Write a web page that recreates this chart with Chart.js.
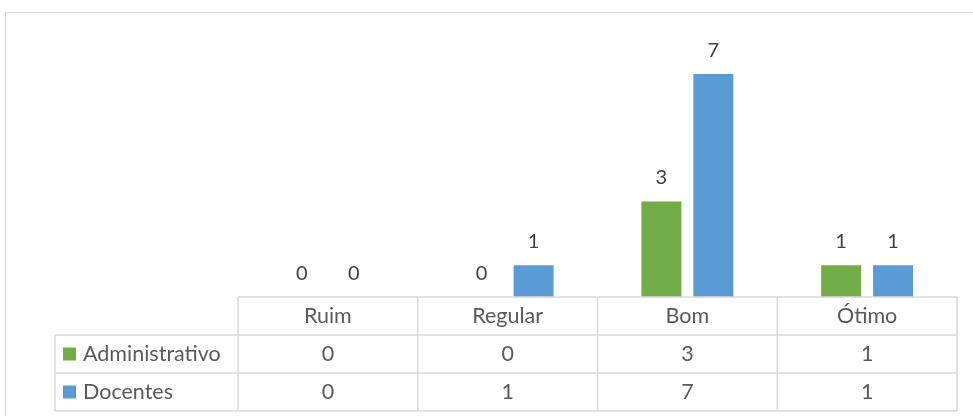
<!DOCTYPE html>
<html>
<head>
<meta charset="utf-8">
<title>Avaliação</title>
<script src="https://cdn.jsdelivr.net/npm/chart.js@4/dist/chart.umd.min.js"></script>
<style>
    html, body { margin: 0; padding: 0; background: #fff; overflow: hidden; }
    #frame {
        position: absolute; left: 5px; top: 12px;
        width: 1100px; height: 600px;
        border: 1px solid #d9d9d9;
    }
    #chartBox { position: absolute; left: 0; top: 0; width: 973px; height: 416px; }
</style>
</head>
<body>
<div id="frame"></div>
<div id="chartBox"><canvas id="evalChart"></canvas></div>
<script>
// Chart data
const categories = ['Ruim', 'Regular', 'Bom', 'Ótimo'];
const seriesNames = ['Administrativo', 'Docentes'];
const administrativo = [0, 0, 3, 1];
const docentes = [0, 1, 7, 1];
const seriesColors = ['#70ad47', '#5b9bd5'];

const FONT = '"Lato", "Open Sans", sans-serif';
const GRID = '#d9d9d9';
const ROW_H = 38;
const TABLE_LEFT = 55;

/**
 * Draw values above each bar
 */
const barLabels = {
    id: 'barLabels',
    afterDatasetsDraw(chart) {
        const ctx = chart.ctx;
        ctx.save();
        ctx.font = '20px ' + FONT;
        ctx.fillStyle = '#404040';
        ctx.textAlign = 'center';
        ctx.textBaseline = 'alphabetic';
        chart.data.datasets.forEach((ds, i) => {
            chart.getDatasetMeta(i).data.forEach((bar, j) => {
                ctx.fillText(String(ds.data[j]), bar.x, bar.y - 17);
            });
        });
        ctx.restore();
    }
};

/**
 * Draw the data table under the plot, Excel style
 */
const dataTable = {
    id: 'dataTable',
    afterDraw(chart) {
        const ctx = chart.ctx;
        const xs = chart.scales.x;
        const area = chart.chartArea;
        const colW = (area.right - area.left) / categories.length;
        const top = area.bottom;
        const bottom = top + ROW_H * (seriesNames.length + 1);

        ctx.save();
        ctx.strokeStyle = GRID;
        ctx.lineWidth = 1.5;

        // horizontal lines
        ctx.beginPath();
        ctx.moveTo(area.left, top);
        ctx.lineTo(area.right, top);
        for (let r = 1; r <= seriesNames.length + 1; r++) {
            ctx.moveTo(TABLE_LEFT, top + r * ROW_H);
            ctx.lineTo(area.right, top + r * ROW_H);
        }
        // vertical lines
        for (let c = 0; c <= categories.length; c++) {
            const x = area.left + c * colW;
            ctx.moveTo(x, top);
            ctx.lineTo(x, bottom);
        }
        ctx.moveTo(TABLE_LEFT, top + ROW_H);
        ctx.lineTo(TABLE_LEFT, bottom);
        ctx.stroke();

        // text
        ctx.font = '21.5px ' + FONT;
        ctx.fillStyle = '#595959';
        ctx.textBaseline = 'middle';
        ctx.textAlign = 'center';
        categories.forEach((cat, i) => {
            ctx.fillText(cat, xs.getPixelForValue(i), top + ROW_H / 2);
        });
        chart.data.datasets.forEach((ds, r) => {
            const cy = top + ROW_H * (r + 1) + ROW_H / 2;
            ctx.textAlign = 'center';
            ctx.fillStyle = '#595959';
            ds.data.forEach((v, i) => {
                ctx.fillText(String(v), xs.getPixelForValue(i), cy);
            });
            // legend key + series name
            ctx.fillStyle = seriesColors[r];
            ctx.fillRect(TABLE_LEFT + 8, cy - 6.5, 13, 13);
            ctx.fillStyle = '#595959';
            ctx.textAlign = 'left';
            ctx.fillText(ds.label, TABLE_LEFT + 28, cy);
        });
        ctx.restore();
    }
};

/**
 * Build the chart
 */
function initEvalChart() {
    const ctx = document.getElementById('evalChart').getContext('2d');
    new Chart(ctx, {
        type: 'bar',
        data: {
            labels: categories,
            datasets: [
                {
                    label: seriesNames[0],
                    data: administrativo,
                    backgroundColor: seriesColors[0],
                    barPercentage: 0.77,
                    categoryPercentage: 0.578
                },
                {
                    label: seriesNames[1],
                    data: docentes,
                    backgroundColor: seriesColors[1],
                    barPercentage: 0.77,
                    categoryPercentage: 0.578
                }
            ]
        },
        options: {
            responsive: true,
            maintainAspectRatio: false,
            animation: false,
            layout: { padding: { left: 238, right: 16, top: 42, bottom: 119 } },
            plugins: {
                legend: { display: false },
                tooltip: { enabled: false }
            },
            scales: {
                x: { display: false },
                y: { display: false, min: 0, max: 8 }
            }
        },
        plugins: [barLabels, dataTable]
    });
}

initEvalChart();
</script>
</body>
</html>
